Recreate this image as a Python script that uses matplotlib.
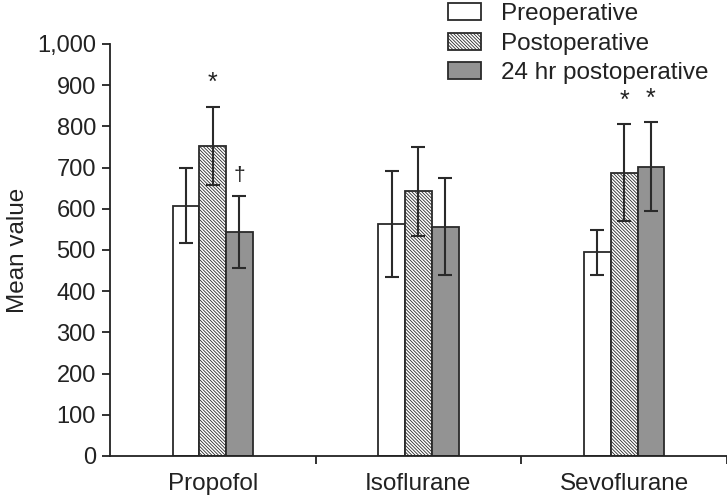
import numpy as np
import matplotlib.pyplot as plt
from matplotlib.ticker import FuncFormatter, FixedLocator

plt.rcParams['font.family'] = ['Liberation Sans', 'DejaVu Sans']
plt.rcParams['hatch.color'] = '#808080'
plt.rcParams['hatch.linewidth'] = 0.6

# Data
groups = ['Propofol', 'Isoflurane', 'Sevoflurane']
series = ['Preoperative', 'Postoperative', '24 hr postoperative']
means = [
    [607, 563, 494],   # preoperative
    [753, 643, 688],   # postoperative
    [543, 557, 702],   # 24 hr postoperative
]
errs = [
    [91, 128, 54],
    [95, 108, 117],
    [87, 118, 108],
]
marks = [
    ['', '', ''],
    ['*', '', '*'],
    ['\u2020', '', '*'],
]

faces = ['white', 'white', '#939393']
hatches = [None, '\\' * 10, None]
edge = '#2a2a2a'
ink = '#222222'

fig = plt.figure(figsize=(7.27, 4.97), dpi=100)
ax = fig.add_axes([0.151, 0.0825, 0.849, 0.829])

x = np.arange(len(groups))
w = 0.13
handles = []
for i in range(3):
    pos = x + (i - 1) * w
    b = ax.bar(pos, means[i], width=w, color=faces[i], edgecolor=edge,
               linewidth=1.3, hatch=hatches[i], label=series[i], zorder=2)
    handles.append(b)
    ax.errorbar(pos, means[i], yerr=errs[i], fmt='none', ecolor=edge,
                elinewidth=1.5, capsize=4.7, capthick=1.5, zorder=3)
    for j in range(3):
        if marks[i][j]:
            top = means[i][j] + errs[i][j]
            dy = 58 if marks[i][j] == '*' else 50
            ax.text(pos[j], top + dy, marks[i][j], ha='center', va='center',
                    fontsize=18 if marks[i][j] == '*' else 15, color=ink)

ax.set_xlim(-0.5, 2.5)
ax.set_ylim(0, 1000)
ax.set_yticks(np.arange(0, 1001, 100))
ax.yaxis.set_major_formatter(FuncFormatter(lambda v, p: f'{int(v):,}'))
ax.set_xticks(x)
ax.set_xticklabels(groups)
ax.xaxis.set_minor_locator(FixedLocator([0.5, 1.5, 2.5]))
ax.tick_params(axis='x', which='major', length=0, labelsize=17.5,
               pad=12, colors=ink)
ax.tick_params(axis='x', which='minor', length=6, width=1.3, direction='out',
               colors=ink)
ax.tick_params(axis='y', length=6, width=1.3, direction='out', labelsize=17,
               pad=4, colors=ink)
for s in ['top', 'right']:
    ax.spines[s].set_visible(False)
for s in ['left', 'bottom']:
    ax.spines[s].set_linewidth(1.3)
    ax.spines[s].set_color(ink)
ax.spines['bottom'].set_bounds(-0.5, 2.5)

ax.set_ylabel('Mean value', fontsize=17.5, color=ink, labelpad=6)

leg = fig.legend(handles=handles, labels=series, loc='upper left',
                 bbox_to_anchor=(0.616, 0.993), frameon=False, fontsize=17.5,
                 handlelength=1.38, handleheight=0.7, handletextpad=0.8,
                 labelspacing=0.29, borderpad=0, borderaxespad=0)
for t in leg.get_texts():
    t.set_color(ink)

fig.savefig('out.png', dpi=100)
